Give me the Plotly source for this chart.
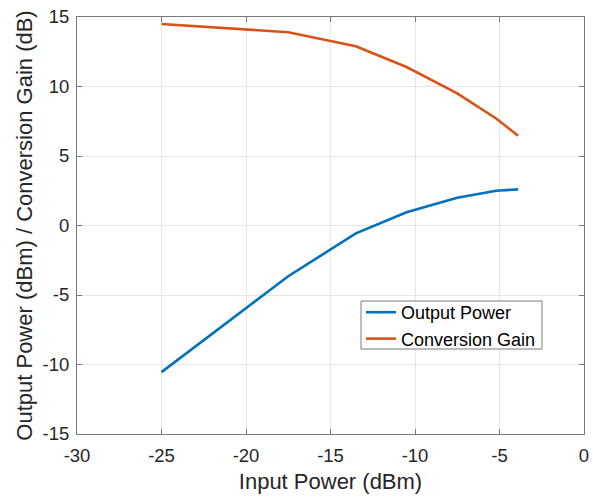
import plotly.graph_objects as go

# Mixer sweep: input power vs output power and conversion gain
input_power = [-25, -17.5, -13.5, -10.5, -7.5, -5.2, -3.9]
output_power = [-10.55, -3.65, -0.57, 0.95, 2.0, 2.5, 2.6]
conversion_gain = [14.5, 13.9, 12.9, 11.4, 9.5, 7.7, 6.45]

x_ticks = [-30, -25, -20, -15, -10, -5, 0]
x_tick_labels = ["-30", "-25", "-20", "-15", "-10", "-5", "0"]
y_ticks = [-15, -10, -5, 0, 5, 10, 15]
y_tick_labels = ["-15", "-10", "-5", "0", "5", "10", "15"]

FONT = "Liberation Sans, Arial, Helvetica, sans-serif"
TEXT = "#262626"
AXIS = "#7a7a7a"
GRID = "#e6e6e6"

fig = go.Figure()
fig.add_trace(go.Scatter(x=input_power, y=output_power, mode="lines",
                         name="Output Power",
                         line=dict(color="#0072BD", width=2.6)))
fig.add_trace(go.Scatter(x=input_power, y=conversion_gain, mode="lines",
                         name="Conversion Gain",
                         line=dict(color="#D95319", width=2.6)))

axis_common = dict(
    showline=True, linecolor=AXIS, linewidth=1, mirror="ticks",
    ticks="inside", ticklen=5, tickwidth=1, tickcolor=AXIS,
    showgrid=True, gridcolor=GRID, gridwidth=1,
    zeroline=False,
    tickfont=dict(family=FONT, size=18.5, color=TEXT),
)

fig.update_xaxes(range=[-30, 0], tickvals=x_ticks, ticktext=x_tick_labels,
                 ticklabelstandoff=5,
                 title=dict(text="Input Power (dBm)",
                            font=dict(family=FONT, size=22, color=TEXT),
                            standoff=8),
                 **axis_common)
fig.update_yaxes(range=[-15, 15], tickvals=y_ticks, ticktext=y_tick_labels,
                 ticklabelstandoff=3,
                 title=dict(text="Output Power (dBm) / Conversion Gain (dB)",
                            font=dict(family=FONT, size=22, color=TEXT),
                            standoff=3),
                 **axis_common)

# Legend frame drawn as a box behind the legend entries
fig.add_shape(type="rect", xref="paper", yref="paper",
              x0=0.5602, x1=0.9172, y0=0.2038, y1=0.3189,
              line=dict(color=AXIS, width=1), fillcolor="white", layer="above")

fig.update_layout(
    width=593, height=497,
    margin=dict(l=77, r=9, t=17, b=63, autoexpand=False),
    paper_bgcolor="white", plot_bgcolor="white",
    font=dict(family=FONT, color=TEXT),
    showlegend=True,
    legend=dict(x=0.5602, y=0.3357, xanchor="left", yanchor="top",
                bgcolor="rgba(0,0,0,0)", borderwidth=0,
                font=dict(family=FONT, size=18, color="#000000"),
                tracegroupgap=0, itemwidth=30),
)

fig.write_html("out.html")
